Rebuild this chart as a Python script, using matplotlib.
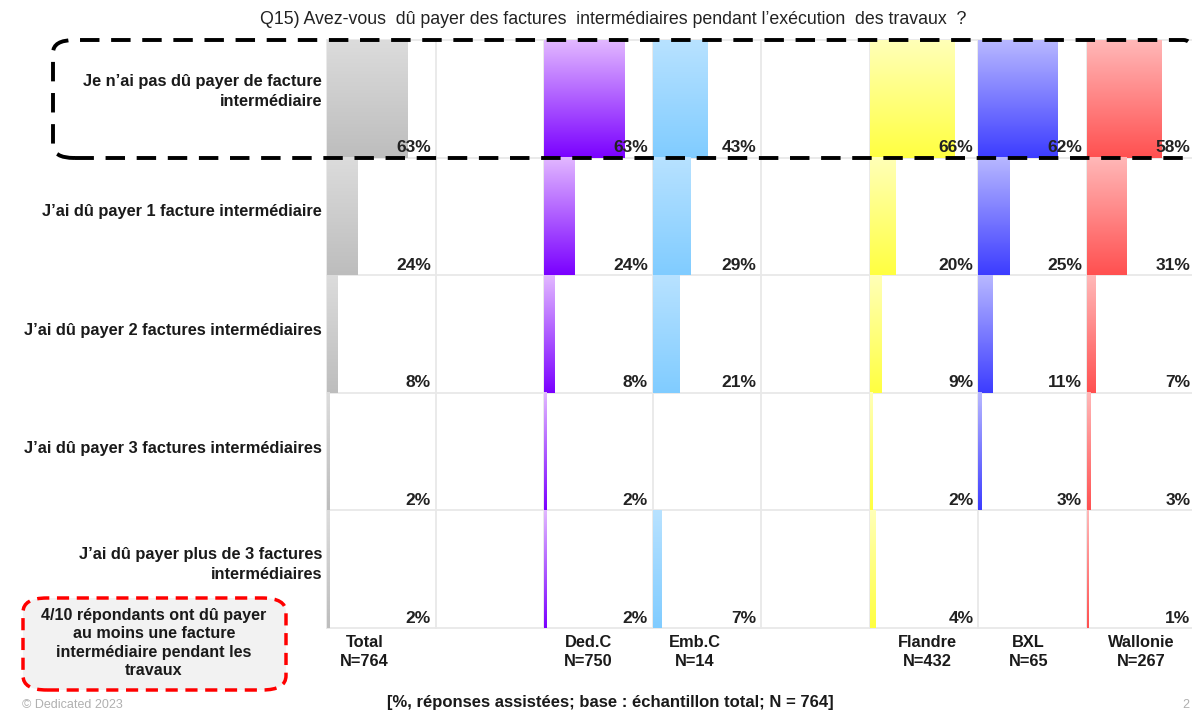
import numpy as np
import matplotlib
matplotlib.use("Agg")
import matplotlib.pyplot as plt
from matplotlib.colors import LinearSegmentedColormap
from matplotlib.patches import FancyBboxPatch
from matplotlib.transforms import blended_transform_factory

plt.rcParams['font.family'] = ['Liberation Sans', 'DejaVu Sans']

# ---------------- data ----------------
row_labels = [
    "Je n’ai pas dû payer de facture\nintermédiaire",
    "J’ai dû payer 1 facture intermédiaire",
    "J’ai dû payer 2 factures intermédiaires",
    "J’ai dû payer 3 factures intermédiaires",
    "J’ai dû payer plus de 3 factures\nintermédiaires",
]
groups = ["Total", "Ded.C", "Emb.C", "Flandre", "BXL", "Wallonie"]
group_n = ["N=764", "N=750", "N=14", "N=432", "N=65", "N=267"]
group_col = [0, 2, 3, 5, 6, 7]          # column slot in the 8-column grid
total = [63, 24, 8, 2, 2]
dedc = [63, 24, 8, 2, 2]
embc = [43, 29, 21, None, 7]
flandre = [66, 20, 9, 2, 4]
bxl = [62, 25, 11, 3, None]
wallonie = [58, 31, 7, 3, 1]
values = [total, dedc, embc, flandre, bxl, wallonie]
grad_top = ["#dcdcdc", "#e2b8ff", "#b8e2ff", "#ffffb8", "#b8b8ff", "#ffb8b8"]
grad_bot = ["#bdbdbd", "#7a00ff", "#80ccff", "#ffff40", "#3c3cff", "#ff5050"]

title = "Q15) Avez-vous  dû payer des factures  intermédiaires pendant l’exécution  des travaux  ?"
note = "4/10 répondants ont dû payer\nau moins une facture\nintermédiaire pendant les\ntravaux"
footer = "[%, réponses assistées; base : échantillon total; N = 764]"

# ---------------- layout ----------------
W, H = 1192, 713
fig = plt.figure(figsize=(W / 100, H / 100), dpi=100)

def fx(x):
    return x / W

def fy(y):
    return 1 - y / H

ax_l, ax_r, ax_t, ax_b = 327, 1195, 40, 628
ax = fig.add_axes([fx(ax_l), fy(ax_b), fx(ax_r - ax_l), (ax_b - ax_t) / H])
ax.set_axis_off()

ncols = 8
colw = 85.0      # one column = 85 percentage points wide
nrows = len(row_labels)

# grid lines
for c in range(ncols + 1):
    ax.plot([c * colw, c * colw], [0, nrows], color="#e8e8e8", lw=1.3, zorder=1, clip_on=False)
for r in range(nrows + 1):
    ax.plot([0, ncols * colw], [r, r], color="#e8e8e8", lw=1.3, zorder=1, clip_on=False)

grad = np.linspace(0, 1, 256).reshape(-1, 1)
for gi, (vals, col) in enumerate(zip(values, group_col)):
    cmap = LinearSegmentedColormap.from_list(f"g{gi}", [grad_top[gi], grad_bot[gi]])
    x0 = col * colw
    for r, v in enumerate(vals):
        if v is None:
            continue
        ytop = nrows - r
        ybot = nrows - r - 1
        ax.imshow(grad, cmap=cmap, aspect="auto", origin="upper",
                  extent=(x0, x0 + v, ybot, ytop), zorder=2, interpolation="bilinear")
        ax.text(x0 + colw - 3.5, ybot + 0.02, f"{v}%", ha="right", va="bottom",
                fontsize=12.5, fontweight="bold", color="#222222", zorder=4)

ax.set_xlim(0, ncols * colw)
ax.set_ylim(0, nrows)

# row labels
tr_rows = blended_transform_factory(fig.transFigure, ax.transData)
row_y_off = [0.06, 0.04, 0.03, 0.03, 0.04]
for r, lab in enumerate(row_labels):
    ax.text(fx(322), nrows - r - 0.5 + row_y_off[r], lab, transform=tr_rows,
            ha="right", va="center", fontsize=11.8, fontweight="bold",
            color="#1a1a1a", linespacing=1.42)

# column labels
tr_cols = blended_transform_factory(ax.transData, fig.transFigure)
col_x_off = [-17, -10, -12, 4, -4, 0]
for g, n, col, off in zip(groups, group_n, group_col, col_x_off):
    ax.text(col * colw + colw / 2 + off * colw / 108.5, fy(652), f"{g}\n{n}",
            transform=tr_cols, ha="center", va="center", fontsize=11.8,
            fontweight="bold", color="#1a1a1a", linespacing=1.3)

# title & footer
fig.text(fx(613), fy(19), title, ha="center", va="center", fontsize=12.8, color="#222222")
fig.text(fx(610), fy(703), footer, ha="center", va="center", fontsize=12,
         fontweight="bold", color="#1a1a1a")
fig.text(fx(22), fy(705), "© Dedicated 2023", ha="left", va="center", fontsize=9, color="#b0b0b0")
fig.text(fx(1182), fy(705), "2", ha="left", va="center", fontsize=9, color="#b0b0b0")

# dashed highlight box around first row
box = FancyBboxPatch((fx(53), fy(158)), fx(1205 - 53), (158 - 40) / H,
                     boxstyle="round,pad=0,rounding_size=0.018",
                     transform=fig.transFigure, fill=False, edgecolor="black",
                     lw=2.8, linestyle=(0, (5, 3)), zorder=5)
fig.patches.append(box)

# note box
note_box = FancyBboxPatch((fx(23), fy(690)), fx(286 - 23), (690 - 598) / H,
                          boxstyle="round,pad=0,rounding_size=0.02",
                          transform=fig.transFigure, facecolor="#f2f2f2",
                          edgecolor="#ff0000", lw=2.5, linestyle=(0, (3.5, 2.2)))
fig.patches.append(note_box)
fig.text(fx(154), fy(643), note, ha="center", va="center", fontsize=11.6,
         fontweight="bold", color="#1a1a1a", linespacing=1.3)

fig.savefig("out.png", dpi=100)
